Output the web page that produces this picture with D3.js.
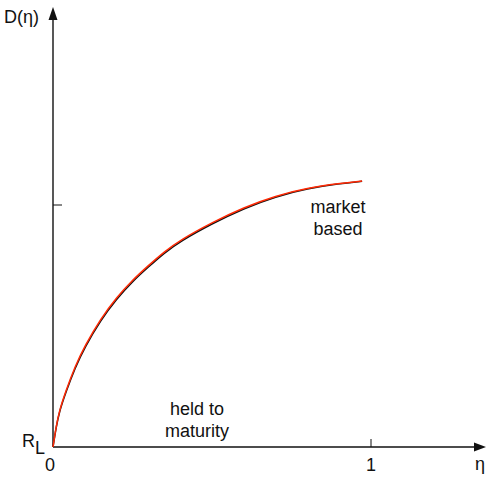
<!DOCTYPE html>
<html>
<head>
<meta charset="utf-8">
<script src="https://cdn.jsdelivr.net/npm/d3@7"></script>
<style>
	body { margin: 0; background: #fff; }
	text { font-family: "Liberation Sans", Arial, sans-serif; font-size: 18px; fill: #111; }
</style>
</head>
<body>
<svg id="chart" width="496" height="477"></svg>
<script>
// eta values and the two (almost identical) curves
const eta = [0, 0.01, 0.02, 0.04, 0.07, 0.1, 0.15, 0.2, 0.25, 0.3, 0.35, 0.4, 0.5, 0.6, 0.7, 0.8, 0.9, 0.972];
const redD = [0, 0.085, 0.15, 0.23, 0.335, 0.418, 0.53, 0.618, 0.69, 0.75, 0.807, 0.855, 0.928, 0.99, 1.038, 1.07, 1.089, 1.099];
const blackD = [0, 0.082, 0.146, 0.225, 0.329, 0.412, 0.524, 0.612, 0.684, 0.744, 0.802, 0.85, 0.923, 0.986, 1.035, 1.068, 1.088, 1.098];
const xTicks = [0, 1];
const yTicks = [1];
const xTickLabels = ["0", "1"];

var svg = d3.select("#chart");

var x = d3.scaleLinear().domain([0, 1]).range([53, 371]);
var y = d3.scaleLinear().domain([0, 1]).range([447, 205]);

// axes with arrow heads
svg.append("line")
	.attr("x1", x(0)).attr("y1", y(0))
	.attr("x2", 476).attr("y2", y(0))
	.attr("stroke", "#111").attr("stroke-width", 1.4);
svg.append("path")
	.attr("d", "M474," + (y(0) - 4.5) + " L486," + y(0) + " L474," + (y(0) + 4.5) + " Z")
	.attr("fill", "#111");

svg.append("line")
	.attr("x1", x(0)).attr("y1", y(0))
	.attr("x2", x(0)).attr("y2", 18)
	.attr("stroke", "#111").attr("stroke-width", 1.4);
svg.append("path")
	.attr("d", "M" + (x(0) - 4.5) + ",20 L" + x(0) + ",7 L" + (x(0) + 4.5) + ",20 Z")
	.attr("fill", "#111");

// ticks
svg.selectAll(".xtick")
	.data(xTicks.filter(d => d > 0))
	.enter().append("line")
	.attr("x1", d => x(d)).attr("x2", d => x(d))
	.attr("y1", y(0)).attr("y2", y(0) - 8)
	.attr("stroke", "#111").attr("stroke-width", 1);

svg.selectAll(".ytick")
	.data(yTicks)
	.enter().append("line")
	.attr("x1", x(0)).attr("x2", x(0) + 9)
	.attr("y1", d => y(d)).attr("y2", d => y(d))
	.attr("stroke", "#111").attr("stroke-width", 1);

svg.selectAll(".xlab")
	.data(xTicks)
	.enter().append("text")
	.attr("text-anchor", "middle")
	.attr("x", (d, i) => i == 0 ? x(d) - 3 : x(d))
	.attr("y", 471)
	.text((d, i) => xTickLabels[i]);

// curves
var line = d3.line()
	.x((d, i) => x(eta[i]))
	.y(d => y(d))
	.curve(d3.curveBasis);

svg.append("path")
	.datum(blackD)
	.attr("d", line)
	.attr("fill", "none")
	.attr("stroke", "#111")
	.attr("stroke-width", 1.5);

svg.append("path")
	.datum(redD)
	.attr("d", line)
	.attr("fill", "none")
	.attr("stroke", "#ff2a05")
	.attr("stroke-width", 1.5);

// labels
svg.append("text").attr("x", 4).attr("y", 23).text("D(η)");

var rl = svg.append("text").attr("x", 22).attr("y", 447);
rl.append("tspan").text("R");
rl.append("tspan").attr("dy", 7).text("L");

svg.append("text").attr("x", 475).attr("y", 470).text("η");

var mb = svg.append("text").attr("text-anchor", "middle");
mb.append("tspan").attr("x", 338).attr("y", 213).text("market");
mb.append("tspan").attr("x", 338).attr("y", 235).text("based");

var hm = svg.append("text").attr("text-anchor", "middle");
hm.append("tspan").attr("x", 197).attr("y", 415).text("held to");
hm.append("tspan").attr("x", 197).attr("y", 437).text("maturity");
</script>
</body>
</html>
